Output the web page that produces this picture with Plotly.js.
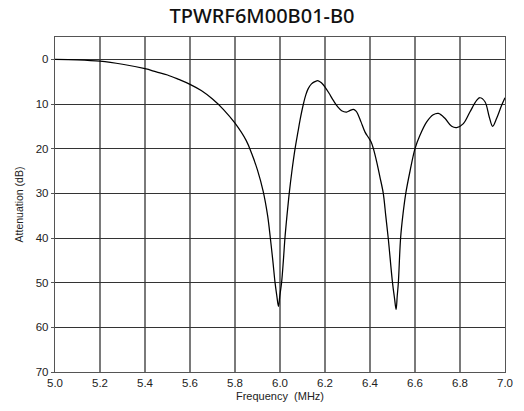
<!DOCTYPE html>
<html>
<head>
<meta charset="utf-8">
<script src="https://cdn.plot.ly/plotly-3.0.1.min.js"></script>
<style>html,body{margin:0;padding:0;background:#fff;}#chart{width:524px;height:411px;}</style>
</head>
<body>
<div id="chart"></div>
<script>
const chartTitle = "TPWRF6M00B01-B0";
const xTitle = "Frequency  (MHz)";
const yTitle = "Attenuation (dB)";
const xTickVals = [5.0, 5.2, 5.4, 5.6, 5.8, 6.0, 6.2, 6.4, 6.6, 6.8, 7.0];
const xTickText = ["5.0", "5.2", "5.4", "5.6", "5.8", "6.0", "6.2", "6.4", "6.6", "6.8", "7.0"];
const yTickVals = [0, 10, 20, 30, 40, 50, 60, 70];

const freq = [5.0, 5.1, 5.2, 5.3, 5.4, 5.45, 5.5, 5.55, 5.6, 5.65, 5.7, 5.75, 5.8, 5.85, 5.875, 5.9, 5.925, 5.945, 5.957, 5.968, 5.978, 5.986, 5.993,
  5.999, 6.007, 6.015, 6.022, 6.031, 6.041, 6.053, 6.067, 6.08, 6.089, 6.104, 6.115, 6.126, 6.14, 6.155, 6.17, 6.185, 6.2, 6.218,
  6.237, 6.256, 6.274, 6.296, 6.31, 6.326, 6.338, 6.348, 6.36, 6.378, 6.393, 6.405, 6.415, 6.43, 6.444, 6.459, 6.47, 6.481, 6.5,
  6.509, 6.516, 6.521, 6.526, 6.536, 6.547, 6.559, 6.578, 6.6, 6.622, 6.652, 6.681, 6.704, 6.733, 6.763, 6.785, 6.815, 6.844,
  6.874, 6.889, 6.911, 6.93, 6.945, 6.963, 6.985, 7.0];
const atten = [0, 0.1, 0.4, 1.1, 2.1, 2.8, 3.5, 4.5, 5.6, 7.0, 8.9, 11.3, 14.3, 18.2, 21.2, 24.8, 29.5, 35, 40, 45, 50, 53, 55.3,
  53, 50, 45, 40, 35, 30, 25, 20, 16.2, 13.6, 10, 7.9, 6.5, 5.5, 5.0, 4.8, 5.3, 6.2, 7.6,
  9.2, 10.6, 11.5, 11.8, 11.5, 11.2, 11.6, 12.5, 14, 16.3, 17.5, 18.5, 20, 23, 26.3, 30, 35, 40, 50,
  53.5, 56, 53, 50, 40, 34.5, 30, 25, 20, 17, 14, 12.4, 12.1, 13.2, 15, 15.3, 14.4, 11.8,
  9.2, 8.6, 9.5, 12.9, 15, 13.2, 10.3, 8.6];

const trace = {
  x: freq, y: atten, type: 'scatter', mode: 'lines',
  line: {color: '#000', width: 1.25, shape: 'spline', smoothing: 1},
  hoverinfo: 'skip'
};

const layout = {
  width: 524, height: 411,
  margin: {l: 55, r: 19, t: 37, b: 39, pad: 0},
  paper_bgcolor: '#fff', plot_bgcolor: '#fff',
  showlegend: false,
  title: {text: chartTitle, x: 0.5, xanchor: 'center', y: 0.962, yanchor: 'middle',
    font: {family: 'Noto Sans, sans-serif', size: 20, color: '#111', weight: 500}},
  xaxis: {
    range: [5.0, 7.0], tickvals: xTickVals, ticktext: xTickText,
    showgrid: true, gridcolor: '#7a7a7a', gridwidth: 1.4,
    zeroline: false, showline: true, linecolor: '#555', linewidth: 1.2, mirror: true,
    ticks: '', tickfont: {family: 'Liberation Sans, Arial, sans-serif', size: 11.5, color: '#222'},
    title: {text: xTitle, standoff: 4, font: {family: 'Liberation Sans, Arial, sans-serif', size: 11, color: '#222'}}
  },
  yaxis: {
    range: [70, -5], tickvals: yTickVals,
    showgrid: true, gridcolor: '#333', gridwidth: 1,
    zeroline: false, showline: true, linecolor: '#555', linewidth: 1.2, mirror: true,
    ticks: 'outside', ticklen: 3, tickcolor: '#555', ticklabelstandoff: 0,
    tickfont: {family: 'Liberation Sans, Arial, sans-serif', size: 11.5, color: '#222'},
    title: {text: yTitle, standoff: 10, font: {family: 'Liberation Sans, Arial, sans-serif', size: 10.5, color: '#222'}}
  }
};

Plotly.newPlot('chart', [trace], layout, {displayModeBar: false, staticPlot: true});
</script>
</body>
</html>
